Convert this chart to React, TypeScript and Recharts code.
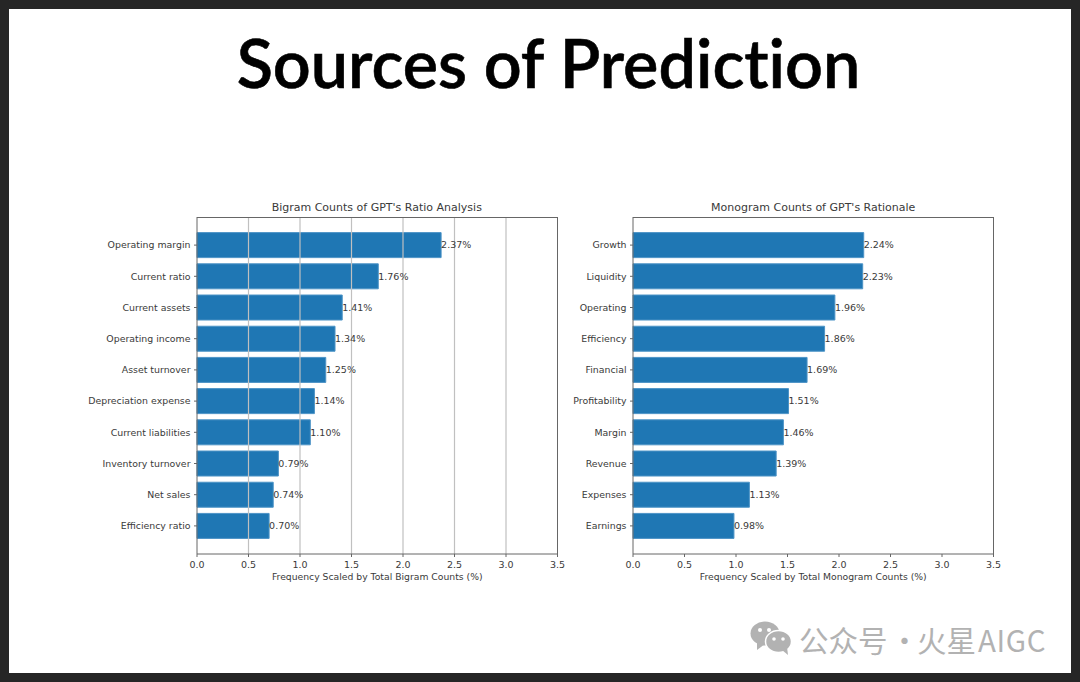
import { BarChart, Bar, XAxis, YAxis, LabelList, ReferenceLine } from 'recharts'

const bigramNames = ['Operating margin', 'Current ratio', 'Current assets', 'Operating income', 'Asset turnover', 'Depreciation expense', 'Current liabilities', 'Inventory turnover', 'Net sales', 'Efficiency ratio']
const bigramValues = [2.37, 1.76, 1.41, 1.34, 1.25, 1.14, 1.1, 0.79, 0.74, 0.7]
const monogramNames = ['Growth', 'Liquidity', 'Operating', 'Efficiency', 'Financial', 'Profitability', 'Margin', 'Revenue', 'Expenses', 'Earnings']
const monogramValues = [2.24, 2.23, 1.96, 1.86, 1.69, 1.51, 1.46, 1.39, 1.13, 0.98]
const xTicks = [0, 0.5, 1, 1.5, 2, 2.5, 3, 3.5]
const gridTicks = [0.5, 1, 1.5, 2, 2.5, 3]

const FONT = '"DejaVu Sans", sans-serif'
const INK = '#3a3a3a'
const SPINE = '#666'

function Panel({ left, title, names, values, xLabel, grid }: {
  left: number
  title: string
  names: string[]
  values: number[]
  xLabel: string
  grid: boolean
}) {
  const data = names.map((name, i) => ({ name, value: values[i] }))
  return (
    <div style={{ position: 'absolute', left, top: 200, width: 540, height: 400 }}>
      <div style={{ position: 'absolute', left: 160, width: 360.5, top: 0, textAlign: 'center', fontFamily: FONT, fontSize: 11, lineHeight: '15px', color: INK, whiteSpace: 'nowrap' }}>
        {title}
      </div>
      <BarChart width={540} height={400} data={data} layout="vertical" barCategoryGap="10%" margin={{ top: 17, right: 19.5, bottom: 0, left: 0 }}>
        <XAxis
          type="number"
          domain={[0, 3.5]}
          ticks={xTicks}
          interval={0}
          height={46}
          tick={{ fontSize: 9.5, fontFamily: FONT, fill: INK }}
          tickFormatter={(v: number) => v.toFixed(1)}
          tickSize={3}
          tickMargin={4}
          stroke={SPINE}
          label={{ value: xLabel, position: 'insideBottom', offset: 20, fontSize: 9.25, fontFamily: FONT, fill: INK }}
        />
        <YAxis
          type="category"
          dataKey="name"
          width={160}
          interval={0}
          padding={{ top: 12.5, bottom: 12.5 }}
          tick={{ fontSize: 9.4, fontFamily: FONT, fill: INK }}
          tickSize={3}
          tickMargin={3.5}
          stroke={SPINE}
        />
        <Bar dataKey="value" fill="#1f77b4" stroke="#4c93c6" strokeWidth={1} isAnimationActive={false}>
          <LabelList dataKey="value" position="right" offset={0} formatter={(v: any) => Number(v).toFixed(2) + '%'} style={{ fontSize: 9.5, fontFamily: FONT, fill: INK }} />
        </Bar>
        {grid && gridTicks.map((t) => <ReferenceLine key={t} x={t} stroke="#c0c0c0" strokeWidth={1.2} />)}
      </BarChart>
      {/* top and right spines */}
      <div style={{ position: 'absolute', left: 160, top: 17, width: 360, height: 337, borderTop: `1px solid ${SPINE}`, borderRight: `1px solid ${SPINE}`, pointerEvents: 'none' }} />
    </div>
  )
}

function WeChatIcon() {
  return (
    <svg width={42} height={34} viewBox="0 0 42 34" style={{ position: 'absolute', left: 750, top: 621 }}>
      <ellipse cx={15} cy={12.5} rx={14.5} ry={12} fill="#b2b2b2" />
      <path d="M7 20 L7 29 L15 23 Z" fill="#b2b2b2" />
      <ellipse cx={28.5} cy={20.5} rx={13} ry={11} fill="#b2b2b2" stroke="#fff" strokeWidth={1.5} />
      <path d="M32 29 L38 34 L37 26 Z" fill="#b2b2b2" />
      <circle cx={10} cy={9} r={2} fill="#fff" />
      <circle cx={19} cy={9} r={2} fill="#fff" />
      <circle cx={24} cy={18} r={1.8} fill="#fff" />
      <circle cx={33} cy={18} r={1.8} fill="#fff" />
    </svg>
  )
}

export default function App() {
  return (
    <div style={{ position: 'absolute', left: 0, top: 0, width: 1080, height: 682, background: '#262626', overflow: 'hidden' }}>
      <div style={{ position: 'absolute', left: 9, top: 9, width: 1062, height: 664, background: '#fff' }} />
      <div style={{ position: 'absolute', left: 0, width: 1097, top: 22, textAlign: 'center', fontFamily: 'Lato, sans-serif', fontWeight: 600, fontSize: 66.5, fontVariantLigatures: 'none', WebkitTextStroke: '0.6px #000', lineHeight: '80px', color: '#000', whiteSpace: 'nowrap' }}>
        Sources of Prediction
      </div>
      <Panel left={36.5} title="Bigram Counts of GPT's Ratio Analysis" names={bigramNames} values={bigramValues} xLabel="Frequency Scaled by Total Bigram Counts (%)" grid />
      <Panel left={473} title="Monogram Counts of GPT's Rationale" names={monogramNames} values={monogramValues} xLabel="Frequency Scaled by Total Monogram Counts (%)" grid={false} />
      <WeChatIcon />
      <div style={{ position: 'absolute', left: 799, top: 620, fontFamily: '"Noto Sans CJK SC", sans-serif', fontSize: 29.5, lineHeight: '38px', color: '#b2b2b2', whiteSpace: 'nowrap' }}>
        公众号<span style={{ letterSpacing: -4.4 }}> · </span>火星<span style={{ marginLeft: 2, letterSpacing: 0.6 }}>AIGC</span>
      </div>
    </div>
  )
}
